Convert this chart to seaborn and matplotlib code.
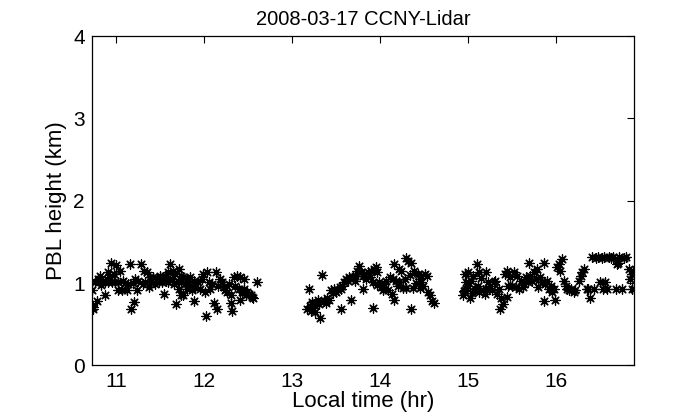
#!/usr/bin/env python3
"""PBL height from CCNY lidar, 2008-03-17, as scatter of retrievals."""

import numpy as np
import pandas as pd
import matplotlib
matplotlib.use("Agg")
import matplotlib.pyplot as plt
import seaborn as sns

# morning segment
time_am = [10.72, 10.73, 10.74, 10.72, 10.76, 10.78, 10.79, 10.81, 10.83, 10.85,
           10.87, 10.87, 10.90, 10.90, 10.92, 10.94, 10.95, 10.97, 10.98, 11.00,
           11.02, 11.02, 11.04, 11.06, 11.08, 11.10, 11.12, 11.13, 11.15, 11.17,
           11.19, 11.20, 11.21, 11.23, 11.25, 11.28, 11.30, 11.31, 11.33, 11.35,
           11.37, 11.38, 11.40, 11.42, 11.44, 11.46, 11.48, 11.50, 11.52, 11.54,
           11.55, 11.57, 11.59, 11.59, 11.61, 11.63, 11.64, 11.66, 11.67, 11.68,
           11.70, 11.71, 11.71, 11.73, 11.74, 11.74, 11.76, 11.76, 11.78, 11.80,
           11.80, 11.82, 11.84, 11.84, 11.86, 11.88, 11.88, 11.90, 11.93, 11.95,
           11.97, 11.99, 12.01, 12.02, 12.03, 12.05, 12.07, 12.09, 12.11, 12.13,
           12.15, 12.16, 12.18, 12.20, 12.22, 12.24, 12.26, 12.28, 12.30, 12.30,
           12.32, 12.34, 12.35, 12.37, 12.39, 12.41, 12.41, 12.43, 12.45, 12.45,
           12.47, 12.49, 12.51, 12.53, 12.54, 12.56, 12.60]
pbl_am = [0.72, 0.71, 0.69, 0.91, 1.01, 0.78, 1.05, 1.09, 0.98, 1.03,
          0.85, 1.01, 1.13, 1.01, 1.07, 1.24, 1.01, 1.11, 1.01, 1.22,
          1.01, 0.91, 1.15, 0.91, 1.03, 1.00, 0.91, 0.99, 1.23, 0.68,
          1.00, 0.77, 1.05, 0.91, 1.03, 1.23, 0.99, 1.15, 1.01, 1.13,
          0.95, 1.07, 1.03, 1.07, 0.99, 1.05, 1.01, 1.09, 1.01, 0.87,
          1.09, 1.03, 1.13, 1.01, 1.23, 1.05, 1.15, 0.99, 1.11, 0.75,
          1.03, 1.17, 0.93, 1.01, 1.09, 0.85, 1.07, 0.85, 0.99, 1.05,
          0.93, 1.01, 1.07, 0.97, 0.91, 1.03, 0.78, 0.95, 1.01, 0.93,
          1.05, 1.11, 0.89, 0.60, 1.13, 1.01, 0.93, 0.99, 0.76, 1.13,
          0.68, 0.97, 1.05, 1.01, 0.95, 0.91, 0.89, 0.99, 0.85, 0.76,
          0.66, 1.07, 0.97, 1.09, 0.93, 1.07, 0.80, 0.89, 1.05, 0.93,
          0.85, 0.89, 0.87, 0.85, 0.83, 0.82, 1.01]

# midday segment
time_mid = [13.17, 13.19, 13.20, 13.21, 13.22, 13.23, 13.24, 13.25, 13.26, 13.27,
            13.29, 13.31, 13.32, 13.34, 13.36, 13.38, 13.40, 13.42, 13.44, 13.46,
            13.48, 13.50, 13.52, 13.54, 13.55, 13.56, 13.57, 13.59, 13.61, 13.63,
            13.65, 13.67, 13.69, 13.71, 13.72, 13.74, 13.76, 13.78, 13.80, 13.81,
            13.82, 13.84, 13.86, 13.88, 13.90, 13.92, 13.92, 13.93, 13.95, 13.96,
            13.97, 13.99, 14.01, 14.03, 14.05, 14.07, 14.09, 14.11, 14.13, 14.15,
            14.16, 14.16, 14.18, 14.20, 14.22, 14.22, 14.24, 14.26, 14.28, 14.30,
            14.30, 14.32, 14.34, 14.35, 14.35, 14.37, 14.39, 14.41, 14.43, 14.45,
            14.45, 14.47, 14.47, 14.49, 14.51, 14.53, 14.55, 14.57, 14.59, 14.61]
pbl_mid = [0.68, 0.93, 0.72, 0.66, 0.77, 0.75, 0.70, 0.74, 0.65, 0.76,
           0.80, 0.74, 0.58, 1.10, 0.78, 0.76, 0.82, 0.80, 0.91, 0.88,
           0.93, 0.89, 0.91, 0.95, 0.68, 0.93, 0.97, 1.01, 1.05, 1.03,
           1.07, 0.80, 1.07, 1.03, 1.09, 1.15, 1.21, 1.13, 1.09, 0.93,
           1.11, 1.05, 1.13, 1.07, 1.15, 1.01, 0.70, 1.17, 1.19, 1.13,
           0.98, 1.01, 0.95, 0.91, 0.99, 1.03, 0.91, 1.07, 0.87, 1.05,
           1.23, 0.80, 1.03, 0.97, 1.01, 1.17, 1.15, 0.94, 1.05, 1.31,
           0.94, 1.27, 1.10, 1.25, 0.68, 0.94, 1.15, 1.00, 1.11, 0.94,
           1.05, 1.09, 1.01, 0.97, 1.11, 1.09, 0.89, 0.85, 0.78, 0.76]

# afternoon segment
time_pm = [14.94, 14.95, 14.96, 14.96, 14.98, 15.00, 15.00, 15.02, 15.03, 15.05,
           15.06, 15.08, 15.10, 15.11, 15.13, 15.13, 15.15, 15.17, 15.19, 15.21,
           15.21, 15.23, 15.25, 15.27, 15.29, 15.31, 15.33, 15.35, 15.36, 15.38,
           15.40, 15.42, 15.44, 15.44, 15.46, 15.48, 15.50, 15.52, 15.54, 15.56,
           15.58, 15.60, 15.62, 15.64, 15.66, 15.68, 15.69, 15.71, 15.73, 15.75,
           15.77, 15.79, 15.80, 15.82, 15.84, 15.86, 15.86, 15.88, 15.90, 15.92,
           15.94, 15.96, 15.98, 15.99, 16.01, 16.03, 16.05, 16.07, 16.09, 16.11,
           16.13, 16.15, 16.17, 16.20, 16.22, 16.26, 16.28, 16.30, 16.32, 16.35,
           16.37, 16.39, 16.41, 16.43, 16.45, 16.48, 16.50, 16.52, 16.53, 16.55,
           16.56, 16.58, 16.60, 16.63, 16.65, 16.68, 16.70, 16.71, 16.72, 16.75,
           16.77, 16.80, 16.83, 16.84, 16.86, 16.87, 16.88, 16.89]
pbl_pm = [0.85, 0.90, 0.91, 1.11, 1.01, 1.13, 0.97, 0.82, 1.03, 0.88,
          1.09, 0.93, 1.23, 0.97, 1.13, 0.89, 1.06, 0.91, 0.87, 1.14,
          0.93, 1.01, 0.97, 0.91, 1.01, 1.03, 0.87, 0.93, 0.68, 0.82,
          0.74, 1.11, 0.83, 1.15, 0.96, 1.07, 0.97, 1.13, 0.95, 1.09,
          0.93, 1.03, 0.95, 0.99, 1.07, 1.01, 1.25, 1.09, 1.03, 1.13,
          1.05, 1.17, 0.95, 1.07, 1.01, 1.25, 0.78, 0.99, 1.03, 0.93,
          0.96, 0.89, 0.93, 0.80, 1.19, 1.23, 1.15, 1.29, 1.03, 0.97,
          0.93, 0.91, 0.93, 0.89, 0.91, 1.03, 1.09, 1.13, 1.17, 0.93,
          0.93, 0.82, 1.32, 0.93, 1.31, 1.32, 1.01, 1.31, 0.93, 1.32,
          1.01, 0.93, 1.32, 1.31, 1.32, 0.93, 1.23, 1.25, 1.32, 0.93,
          1.31, 1.32, 1.17, 1.05, 1.11, 0.93, 1.15, 0.93]

x_ticks = [11, 12, 13, 14, 15, 16]
y_ticks = [0, 1, 2, 3, 4]

df = pd.DataFrame({
    "time": time_am + time_mid + time_pm,
    "pbl": pbl_am + pbl_mid + pbl_pm,
})

sns.set_style("white")
plt.rcParams["font.family"] = ["Liberation Sans", "DejaVu Sans"]
plt.rcParams["text.color"] = "black"
plt.rcParams["axes.labelcolor"] = "black"

fig = plt.figure(figsize=(7, 4.2), dpi=100)
ax = fig.add_axes([0.131, 0.130, 0.775, 0.784])

sns.scatterplot(data=df, x="time", y="pbl", ax=ax, marker=(8, 2, 0),
                color="black", s=45, linewidth=0.9, legend=False)

ax.set_xlim(10.72, 16.89)
ax.set_ylim(0, 4)
ax.set_xticks(x_ticks)
ax.set_yticks(y_ticks)
ax.tick_params(direction="in", length=5, width=0.8, top=True, right=True,
               labelsize=15, colors="black", pad=5)
for s in ax.spines.values():
    s.set_color("black")
    s.set_linewidth(0.9)

ax.set_xlabel("Local time (hr)", fontsize=16, labelpad=0, color="black")
ax.set_ylabel("PBL height (km)", fontsize=16, labelpad=4, color="black")
ax.set_title("2008-03-17 CCNY-Lidar", fontsize=14.5, pad=8, color="black")

fig.savefig("out.png", dpi=100)
plt.close(fig)
